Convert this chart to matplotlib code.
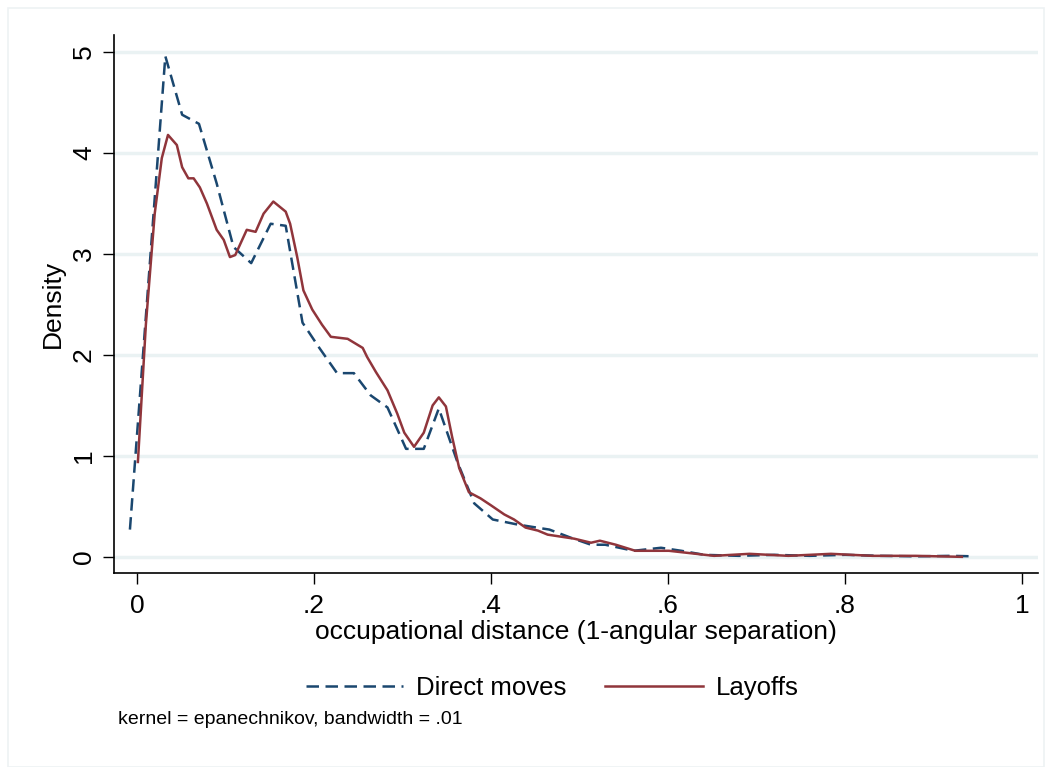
import matplotlib
matplotlib.use('Agg')
import matplotlib.pyplot as plt
from matplotlib.patches import Rectangle

plt.rcParams['font.family'] = ['Liberation Sans', 'DejaVu Sans']

# Densidades (kernel epanechnikov, bw = .01)
x_direct = [-0.008, 0.032, 0.051, 0.070, 0.090, 0.109, 0.129, 0.151, 0.168, 0.187,
            0.206, 0.226, 0.245, 0.264, 0.283, 0.304, 0.324, 0.341, 0.362, 0.381,
            0.402, 0.430, 0.466, 0.490, 0.513, 0.529, 0.561, 0.592, 0.615, 0.641,
            0.680, 0.720, 0.760, 0.800, 0.840, 0.880, 0.920, 0.946]
y_direct = [0.27, 4.96, 4.38, 4.29, 3.70, 3.07, 2.91, 3.30, 3.28, 2.32,
            2.07, 1.82, 1.82, 1.60, 1.48, 1.07, 1.07, 1.47, 0.94, 0.53,
            0.37, 0.32, 0.27, 0.19, 0.12, 0.12, 0.06, 0.09, 0.06, 0.02,
            0.01, 0.02, 0.01, 0.02, 0.01, 0.005, 0.01, 0.005]

x_layoff = [0.001, 0.010, 0.020, 0.028, 0.035, 0.045, 0.051, 0.058, 0.064, 0.071,
            0.079, 0.090, 0.098, 0.105, 0.111, 0.124, 0.134, 0.143, 0.154, 0.168,
            0.173, 0.181, 0.188, 0.198, 0.209, 0.219, 0.238, 0.255, 0.260, 0.270,
            0.283, 0.294, 0.302, 0.313, 0.324, 0.334, 0.341, 0.349, 0.356, 0.364,
            0.375, 0.388, 0.400, 0.415, 0.426, 0.439, 0.453, 0.464, 0.494, 0.513,
            0.523, 0.541, 0.563, 0.601, 0.652, 0.692, 0.736, 0.784, 0.831, 0.880,
            0.932]
y_layoff = [0.94, 2.30, 3.40, 3.95, 4.18, 4.08, 3.86, 3.75, 3.75, 3.66,
            3.50, 3.24, 3.14, 2.97, 2.99, 3.24, 3.22, 3.40, 3.52, 3.42,
            3.30, 2.97, 2.64, 2.45, 2.30, 2.18, 2.16, 2.07, 1.98, 1.83,
            1.65, 1.42, 1.23, 1.09, 1.23, 1.50, 1.58, 1.49, 1.19, 0.88,
            0.64, 0.58, 0.51, 0.42, 0.37, 0.29, 0.26, 0.22, 0.18, 0.14,
            0.16, 0.12, 0.06, 0.06, 0.01, 0.03, 0.01, 0.03, 0.01, 0.01,
            0.00]

x_ticks = [0, 0.2, 0.4, 0.6, 0.8, 1.0]
x_labels = ['0', '.2', '.4', '.6', '.8', '1']
y_ticks = [0, 1, 2, 3, 4, 5]

navy = '#1a476f'
maroon = '#90353b'

fig = plt.figure(figsize=(10.52, 7.67), dpi=100)
ax = fig.add_axes([114/1052, 1 - 573/767, (1038-114)/1052, (573-35)/767])

# moldura externa clara (estilo Stata)
fig.patches.append(Rectangle((8/1052, 0), 1 - 16/1052, 1 - 8/767, transform=fig.transFigure,
                             fill=False, edgecolor='#eef2f4', linewidth=1.2))

for yt in y_ticks:
    ax.axhline(yt, color='#eaf2f3', linewidth=2.5, zorder=0)

ax.plot(x_direct, y_direct, color=navy, linewidth=1.8, dashes=(5.0, 2.6),
        label='Direct moves')
ax.plot(x_layoff, y_layoff, color=maroon, linewidth=1.8, label='Layoffs')

ax.set_xlim(-0.026, 1.018)
ax.set_ylim(-0.16, 5.17)
ax.set_xticks(x_ticks)
ax.set_xticklabels(x_labels)
ax.set_yticks(y_ticks)
ax.set_yticklabels([str(v) for v in y_ticks], rotation=90, va='center')
ax.tick_params(axis='both', length=8, width=1, labelsize=19, color='black')
ax.tick_params(axis='x', pad=7)
ax.tick_params(axis='y', pad=5)

for s in ['top', 'right']:
    ax.spines[s].set_visible(False)
for s in ['left', 'bottom']:
    ax.spines[s].set_linewidth(1.2)

ax.set_xlabel('occupational distance (1-angular separation)', fontsize=19)
ax.set_ylabel('Density', fontsize=19)
ax.xaxis.set_label_coords(0.5, (573 - 632) / 538, transform=ax.transAxes)
ax.yaxis.set_label_coords((53 - 114) / 924, 0.5, transform=ax.transAxes)
ax.xaxis.label.set_va('center')
ax.yaxis.label.set_va('center')

fig.legend(loc='center', bbox_to_anchor=(552/1052, 1 - 688/767), ncol=2, frameon=False,
           fontsize=18.5, handlelength=3.8, handletextpad=0.5, columnspacing=1.5)

fig.text(118/1052, 1 - 720/767, 'kernel = epanechnikov, bandwidth = .01', fontsize=14,
         va='center', ha='left')

fig.savefig('out.png', dpi=100, facecolor='white')
